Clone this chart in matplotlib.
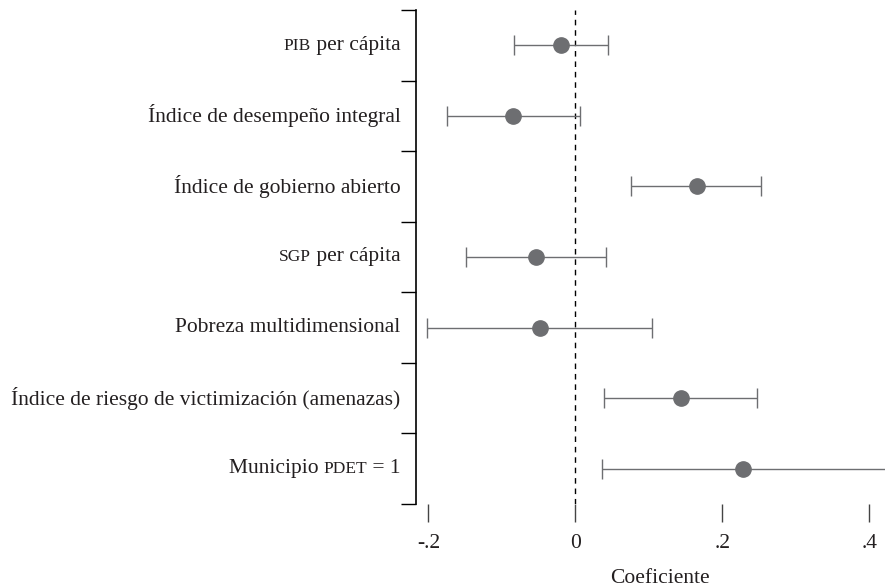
import numpy as np
import matplotlib.pyplot as plt
from matplotlib.offsetbox import TextArea, HPacker, AnnotationBbox

# coefficient estimates with 95% confidence bounds
# each label is split into (small caps part, normal part)
labels = [("PIB", " per cápita"),
          ("", "Índice de desempeño integral"),
          ("", "Índice de gobierno abierto"),
          ("SGP", " per cápita"),
          ("", "Pobreza multidimensional"),
          ("", "Índice de riesgo de victimización (amenazas)"),
          ("", "Municipio "), ]
label_tail = ["", "", "", "", "", "", " = 1"]
label_sc_tail = ["", "", "", "", "", "", "PDET"]
coef  = [-0.019, -0.085, 0.165, -0.054, -0.048, 0.143, 0.228]
lower = [-0.083, -0.175, 0.075, -0.149, -0.202, 0.039, 0.036]
upper = [0.044, 0.006, 0.252, 0.041, 0.104, 0.247, 0.450]
xticks = [-0.2, 0.0, 0.2, 0.4]
xticklabels = ["-.2", "0", ".2", ".4"]

plt.rcParams['font.family'] = ['Liberation Serif', 'DejaVu Serif']
txtcol = "#231f20"
ptcol = "#6d6e71"
fs = 15.5
fs_sc = 12.5

fig = plt.figure(figsize=(8.85, 5.88), dpi=100)
# plot area runs a little past the right edge of the figure
ax = fig.add_axes([0.470, 0.143, 0.5506, 0.840])

y = np.arange(len(coef))
coef = np.array(coef)
err = np.vstack([coef - np.array(lower), np.array(upper) - coef])

ax.axvline(0, color="black", lw=1.0, ls=(0, (4, 3.5)), zorder=1)
ax.errorbar(coef, y, xerr=err, fmt="none", ecolor=ptcol, elinewidth=1.0,
            capsize=7, capthick=1.0, zorder=2)
ax.plot(coef, y, "o", color=ptcol, ms=11, zorder=3)

ax.set_xlim(-0.217, 0.446)
ax.set_ylim(len(coef) - 0.5, -0.5)

# y ticks sit on the category boundaries, labels go in between
ax.set_yticks(np.arange(len(coef) + 1) - 0.5)
ax.set_yticklabels([])
ax.tick_params(axis="y", direction="out", length=11, width=1.0, color="black")

for i in range(len(coef)):
    sc, body = labels[i]
    parts = []
    if sc:
        parts.append(TextArea(sc, textprops=dict(size=fs_sc, color=txtcol)))
    parts.append(TextArea(body, textprops=dict(size=fs, color=txtcol)))
    if label_sc_tail[i]:
        parts.append(TextArea(label_sc_tail[i], textprops=dict(size=fs_sc, color=txtcol)))
    if label_tail[i]:
        parts.append(TextArea(label_tail[i], textprops=dict(size=fs, color=txtcol)))
    box = HPacker(children=parts, align="baseline", pad=0, sep=0)
    ab = AnnotationBbox(box, (0, i), xycoords=("axes fraction", "data"),
                        xybox=(-11, 0), boxcoords="offset points",
                        box_alignment=(1, 0.5), frameon=False)
    ax.add_artist(ab)

ax.set_xticks(xticks)
ax.set_xticklabels(xticklabels, fontsize=fs, color=txtcol)
ax.tick_params(axis="x", direction="out", length=13, width=1.0, color="#444444", pad=9)
ax.set_xlabel("Coeficiente", fontsize=fs, color=txtcol, labelpad=11)

for s in ["top", "right", "bottom"]:
    ax.spines[s].set_visible(False)
ax.spines["left"].set_linewidth(1.2)

fig.savefig("out.png", dpi=100)
